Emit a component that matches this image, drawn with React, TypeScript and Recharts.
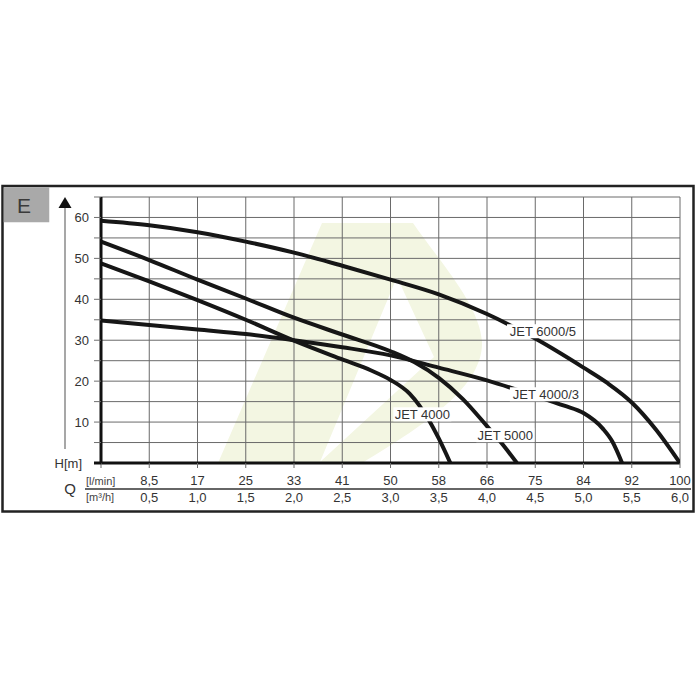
import React from 'react';
import { LineChart, Line, XAxis, YAxis, CartesianGrid, ReferenceDot } from 'recharts';

// Q axis (m³/h) ticks with the matching l/min labels
const xTicks = [0, 0.5, 1, 1.5, 2, 2.5, 3, 3.5, 4, 4.5, 5, 5.5, 6];
const lpmLabels = ['', '8,5', '17', '25', '33', '41', '50', '58', '66', '75', '84', '92', '100'];
const m3hLabels = ['', '0,5', '1,0', '1,5', '2,0', '2,5', '3,0', '3,5', '4,0', '4,5', '5,0', '5,5', '6,0'];
const yTicks = [0, 5, 10, 15, 20, 25, 30, 35, 40, 45, 50, 55, 60, 65];

// pump curves: Q [m³/h] -> H [m]
const q4000 = [0, 0.5, 1, 1.5, 2, 2.5, 2.8, 3, 3.2, 3.4, 3.5, 3.62];
const h4000 = [48.8, 44.4, 39.8, 35, 29.9, 25.3, 22.6, 20.3, 16.9, 10.4, 6, 0];

const q5000 = [0, 0.5, 1, 1.5, 2, 2.5, 3, 3.25, 3.5, 3.75, 4, 4.15, 4.31];
const h5000 = [54.1, 49.6, 44.8, 40.2, 35.5, 31.4, 27.3, 24.6, 20.8, 15.6, 9, 4.9, 0];

const q4000_3 = [0, 0.5, 1, 1.5, 2, 2.5, 3, 3.5, 4, 4.5, 4.8, 5, 5.2, 5.3, 5.4];
const h4000_3 = [34.8, 33.7, 32.6, 31.5, 30, 28.3, 26.3, 23.3, 20.2, 16.4, 14, 12.2, 8.4, 5.2, 0];

const q6000_5 = [0, 0.5, 1, 1.5, 2, 2.5, 3, 3.5, 4, 4.5, 5, 5.25, 5.5, 5.75, 6];
const h6000_5 = [59.2, 58.1, 56.4, 54.1, 51.4, 48.2, 44.8, 41.2, 36.4, 30.4, 23.3, 19.5, 14.8, 8.2, 0];

const seriesNames = ['JET 4000', 'JET 5000', 'JET 4000/3', 'JET 6000/5'];
const labelQ = [3.33, 4.19, 4.61, 4.58];
const labelH = [11.9, 6.8, 16.8, 32.2];

const toPts = (q: number[], h: number[]) => q.map((v, i) => ({ q: v, h: h[i] }));
const series = [toPts(q4000, h4000), toPts(q5000, h5000), toPts(q4000_3, h4000_3), toPts(q6000_5, h6000_5)];

const FONT = '"Liberation Sans", Arial, sans-serif';
const TXT = '#333';

const XTick = ({ x, y, payload }: any) => {
  const i = xTicks.indexOf(payload.value);
  return (
    <g fontFamily={FONT} fontSize={13} fill={TXT}>
      <text x={x} y={y + 17} textAnchor="middle">{lpmLabels[i]}</text>
      <text x={x} y={y + 33.5} textAnchor="middle">{m3hLabels[i]}</text>
    </g>
  );
};

const YTick = ({ x, y, payload }: any) => {
  const v = payload.value;
  const ax = x + 12;
  const zero = v === 0;
  return (
    <g>
      <line x1={ax - 7} x2={ax} y1={y} y2={y} stroke={zero ? '#111' : '#707070'} strokeWidth={zero ? 3 : 1} />
      {v % 10 === 0 && (
        <text x={zero ? ax - 19 : ax - 12} y={y} dy={4.6} textAnchor="end" fontFamily={FONT} fontSize={13} fill={TXT}>
          {zero ? 'H[m]' : v}
        </text>
      )}
    </g>
  );
};

const curveLabel = (name: string) => (props: any) => {
  const { cx, cy } = props;
  const w = name.length * 7 + 2;
  return (
    <g>
      <rect x={cx - w / 2} y={cy - 7} width={w} height={14} fill="#fff" />
      <text x={cx} y={cy} dy={4.6} textAnchor="middle" fontFamily={FONT} fontSize={13} fill={TXT}>{name}</text>
    </g>
  );
};

export default function App() {
  return (
    <div style={{ position: 'absolute', left: 0, top: 0, width: 700, height: 700, background: '#fff' }}>
      {/* faint logo watermark behind the grid */}
      <svg width={700} height={700} style={{ position: 'absolute', left: 0, top: 0 }}>
        <path
          d="M218,463 L322,223 L413,223 C440,262 480,305 482,342 C483,385 430,422 362,463 Z M320,462 L397,277 L434,357 Z"
          fill="#f3f6e2"
          fillRule="evenodd"
        />
      </svg>
      <div style={{ position: 'absolute', left: 0, top: 0 }}>
        <LineChart width={700} height={700} margin={{ top: 197, right: 20, bottom: 197, left: 61 }}>
          <CartesianGrid stroke="#6a6a6a" strokeWidth={1} />
          <XAxis
            type="number"
            dataKey="q"
            domain={[0, 6]}
            ticks={xTicks}
            interval={0}
            height={40}
            tickSize={5}
            tickMargin={0}
            tickLine={{ stroke: '#6a6a6a' }}
            axisLine={{ stroke: '#111', strokeWidth: 3 }}
            tick={<XTick />}
            allowDataOverflow
          />
          <YAxis
            type="number"
            dataKey="h"
            domain={[0, 65]}
            ticks={yTicks}
            interval={0}
            width={40}
            tickSize={7}
            tickMargin={5}
            tickLine={false}
            axisLine={{ stroke: '#111', strokeWidth: 3 }}
            tick={<YTick />}
            allowDataOverflow
          />
          {series.map((d, i) => (
            <Line
              key={seriesNames[i]}
              data={d}
              dataKey="h"
              type="monotone"
              stroke="#161616"
              strokeWidth={4}
              dot={false}
              activeDot={false}
              isAnimationActive={false}
            />
          ))}
          {seriesNames.map((n, i) => (
            <ReferenceDot key={n} x={labelQ[i]} y={labelH[i]} r={0} shape={curveLabel(n)} />
          ))}
        </LineChart>
      </div>
      {/* frame, panel letter, axis arrow and Q unit labels */}
      <svg width={700} height={700} style={{ position: 'absolute', left: 0, top: 0, pointerEvents: 'none' }}>
        <rect x={2.5} y={186} width={691} height={325.5} fill="none" stroke="#222" strokeWidth={2.5} />
        <rect x={3.75} y={187.25} width={45.5} height={35} fill="#a9a9a9" />
        <text x={24} y={213} textAnchor="middle" fontFamily={FONT} fontSize={21} fill="#3a3a3a">E</text>
        <line x1={65} x2={65} y1={207} y2={449} stroke="#8a8a8a" strokeWidth={1.5} />
        <polygon points="65,197 58.5,208 71.5,208" fill="#111" />
        <text x={70} y={493.5} textAnchor="middle" fontFamily={FONT} fontSize={15} fill={TXT}>Q</text>
        <text x={86} y={485} fontFamily={FONT} fontSize={11} fill="#444">[l/min]</text>
        <text x={86} y={501} fontFamily={FONT} fontSize={11} fill="#444">[m³/h]</text>
        <line x1={85} x2={691} y1={489} y2={489} stroke="#333" strokeWidth={1.3} />
      </svg>
    </div>
  );
}
